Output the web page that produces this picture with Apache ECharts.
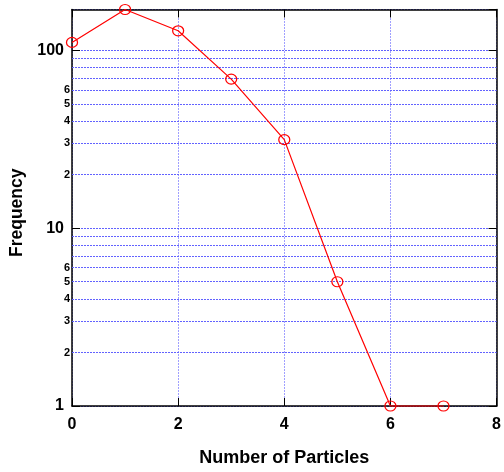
<!DOCTYPE html>
<html>
<head>
<meta charset="utf-8">
<script src="https://cdn.jsdelivr.net/npm/echarts@6/dist/echarts.min.js"></script>
<style>
html,body{margin:0;padding:0;background:#fff;}
#chart{width:504px;height:472px;}
</style>
</head>
<body>
<div id="chart"></div>
<script>
// number of particles vs frequency
var particles = [0, 1, 2, 3, 4, 5, 6, 7];
var freq = [111, 170, 129, 69, 31.5, 5, 1, 1];

// minor log grid lines and their labels (MATLAB style: 7,8,9 not shown)
var minorVals = [2, 3, 4, 5, 6, 7, 8, 9, 20, 30, 40, 50, 60, 70, 80, 90];
var minorLabels = ['2', '3', '4', '5', '6', '', '', '', '2', '3', '4', '5', '6', '', '', ''];

var yMin = 1, yMax = 170;
var xMin = 0, xMax = 8, xStep = 2;

var FONT = 'Liberation Sans';
var gridBlue = '#4040ff';
var hBlue = '#6262ff';
var dots = [1, 2];
var hDots = [2, 1];

var lines = [];
for (var i = 0; i < minorVals.length; i++) {
	lines.push({
		yAxis: minorVals[i],
		label: {
			show: minorLabels[i] != '',
			formatter: minorLabels[i]
		}
	});
}

var myChart = echarts.init(document.getElementById('chart'));
myChart.setOption({
	animation: false,
	grid: {left: 72, right: 7, top: 9.5, bottom: 63},
	xAxis: [{
		type: 'value',
		min: xMin, max: xMax, interval: xStep,
		name: 'Number of Particles',
		nameLocation: 'middle',
		nameGap: 43,
		nameTextStyle: {fontFamily: FONT, fontWeight: 'bold', fontSize: 18, color: '#000'},
		axisLine: {onZero: false, lineStyle: {color: '#000', width: 1.5}},
		axisTick: {inside: true, length: 8, lineStyle: {color: '#000'}},
		axisLabel: {fontFamily: FONT, fontWeight: 'bold', fontSize: 16, color: '#000', margin: 11},
		splitLine: {show: true, lineStyle: {color: gridBlue, type: dots, width: 1}}
	}, {
		type: 'value',
		position: 'top',
		min: xMin, max: xMax, interval: xStep,
		axisLine: {onZero: false, lineStyle: {color: '#000', width: 1.5}},
		axisTick: {inside: true, length: 8, lineStyle: {color: '#000'}},
		axisLabel: {show: false},
		splitLine: {show: false}
	}],
	yAxis: [{
		type: 'log',
		logBase: 10,
		min: yMin, max: yMax,
		name: 'Frequency',
		nameLocation: 'middle',
		nameGap: 46,
		nameTextStyle: {fontFamily: FONT, fontWeight: 'bold', fontSize: 17.5, color: '#000', padding: [0, 10, 0, 0]},
		axisLine: {onZero: false, lineStyle: {color: '#000', width: 1.5}},
		axisTick: {inside: true, length: 8, lineStyle: {color: '#000'}},
		axisLabel: {
			fontFamily: FONT, fontWeight: 'bold', fontSize: 16, color: '#000', margin: 8,
			showMaxLabel: false,
			formatter: function (v) {
				var l = Math.log10(v);
				return Math.abs(l - Math.round(l)) < 1e-6 ? String(Math.round(v)) : '';
			}
		},
		splitLine: {show: true, lineStyle: {color: hBlue, type: hDots, width: 1}}
	}, {
		type: 'log',
		logBase: 10,
		position: 'right',
		min: yMin, max: yMax,
		axisLine: {onZero: false, lineStyle: {color: '#000', width: 1.5}},
		axisTick: {inside: true, length: 8, lineStyle: {color: '#000'}},
		axisLabel: {show: false},
		splitLine: {show: false}
	}],
	series: [{
		type: 'line',
		data: particles.map(function (p, i) { return [p, freq[i]]; }),
		clip: false,
		symbol: 'circle',
		symbolSize: [11, 10],
		lineStyle: {color: '#ff0000', width: 1.2},
		itemStyle: {color: 'rgba(0,0,0,0)', borderColor: '#ff0000', borderWidth: 1.2},
		z: 5,
		markLine: {
			silent: true,
			symbol: ['none', 'none'],
			lineStyle: {color: hBlue, type: hDots, width: 1},
			label: {
				position: 'start',
				distance: 2,
				fontFamily: FONT, fontWeight: 'bold', fontSize: 11, color: '#000'
			},
			data: lines
		}
	}]
});
</script>
</body>
</html>
